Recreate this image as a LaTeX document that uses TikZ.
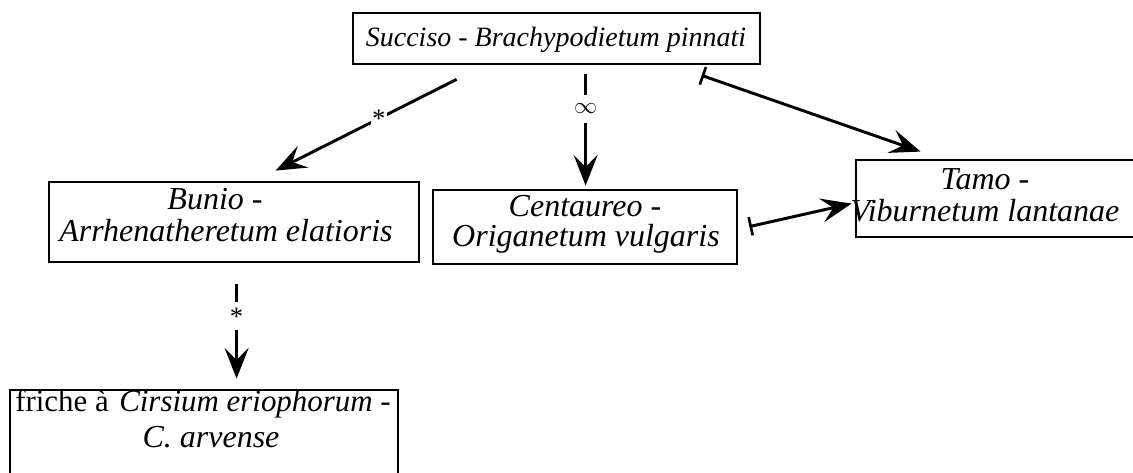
\documentclass[tikz,border=0pt]{standalone}
\usepackage{fontspec}
\setmainfont{Liberation Serif}
\usetikzlibrary{arrows.meta,fit,calc}
\begin{document}
\begin{tikzpicture}[x=0.75pt,y=-0.75pt,
  box/.style={draw,line width=2.1pt,inner sep=0pt},
  txt/.style={inner sep=0pt,anchor=base,font=\fontsize{24}{24}\selectfont\itshape},
  conn/.style={line width=2.2pt},
  arr/.style={conn,-{Stealth[length=23pt,width=18pt,inset=9pt]}},
  bararr/.style={conn,{Bar[width=14pt,line width=2pt]}-{Stealth[length=23pt,width=18pt,inset=9pt]}},
  gap/.style={fill=white,inner sep=1pt,font=\fontsize{20}{20}\selectfont}
]
\useasboundingbox (0,0) rectangle (1133,473);
\clip (0,0) rectangle (1133,473);
\fill[white] (0,0) rectangle (1133,473);

% boxes
\node[box,fit={(353,13) (760,64)}] (top) {};
\node[box,fit={(49,182) (419,262)}] (bunio) {};
\node[box,fit={(433,190) (737,264)}] (cent) {};
\node[box,fit={(856,160) (1145,237)}] (tamo) {};
\node[box,fit={(10,390) (398,480)}] (friche) {};

% texts
\node[txt,font=\fontsize{21}{21}\selectfont\itshape] (ttop) at (556,47) {Succiso - Brachypodietum pinnati};
\node[txt] (tb1) at (215,210) {Bunio -};
\node[txt] (tb2) at (226,242) {Arrhenatheretum elatioris};
\node[txt] (tc1) at (585,217) {Centaureo -};
\node[txt] (tc2) at (586,247) {Origanetum vulgaris};
\node[txt] (tt1) at (985,190) {Tamo -};
\node[txt] (tt2) at (985,222) {Viburnetum lantanae};
\node[txt,anchor=base west,font=\fontsize{23.2}{24}\selectfont] (tf1) at (15,412) {friche à \kern2pt\itshape Cirsium eriophorum -};
\node[txt] (tf2) at (211,448) {C. arvense};

% connector end points
\coordinate (s1) at ($(top.south west)+(105,14)$);
\coordinate (e1) at ($(bunio.north west)+(228,-10)$);
\coordinate (s2) at ($(top.south west)+(234,9)$);
\coordinate (e2) at ($(cent.north west)+(154,-3)$);
\coordinate (s3) at ($(top.south west)+(350,10)$);
\coordinate (e3) at ($(tamo.north west)+(66,-7)$);
\coordinate (s4) at ($(cent.north east)+(11,38)$);
\coordinate (e4) at ($(tamo.north west)+(-3,45)$);
\coordinate (s5) at ($(bunio.south west)+(189,21)$);
\coordinate (e5) at ($(friche.north west)+(228,-10)$);

% connectors
\draw[arr] (s1) -- node[gap,pos=0.43] (l1) {*} (e1);
\draw[arr] (s2) -- node[gap,pos=0.31,inner ysep=7pt,font=\fontsize{16}{16}\selectfont] (l2) {$\infty$} (e2);
\draw[bararr] (s3) -- (e3);
\draw[bararr] (s4) -- (e4);
\draw[arr] (s5) -- node[gap,pos=0.34,inner ysep=4pt] (l5) {*} (e5);
\end{tikzpicture}
\end{document}
